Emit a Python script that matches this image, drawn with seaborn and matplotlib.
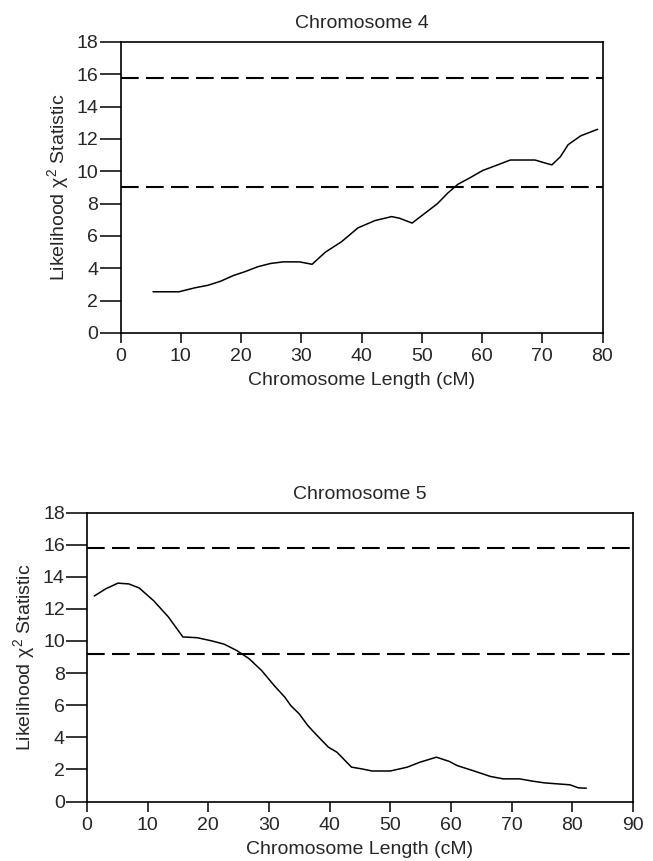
import matplotlib
matplotlib.use("Agg")
import matplotlib.pyplot as plt
import seaborn as sns
import pandas as pd

# Chromosome 4 likelihood profile
chr4_pos = [5.4, 9.7, 12.4, 14.5, 16.6, 18.7, 20.7, 22.8, 24.9, 27.0, 29.7, 31.8,
            34.0, 36.7, 39.4, 42.2, 45.0, 46.3, 48.4, 50.5, 52.6, 54.3, 56.0, 58.0,
            60.1, 62.6, 64.7, 68.8, 70.6, 71.6, 73.0, 74.3, 76.4, 77.8, 79.2]
chr4_lr = [2.55, 2.55, 2.8, 2.95, 3.2, 3.55, 3.8, 4.1, 4.3, 4.4, 4.4, 4.25,
           5.0, 5.65, 6.5, 6.95, 7.2, 7.1, 6.8, 7.4, 8.0, 8.65, 9.2, 9.6,
           10.05, 10.4, 10.7, 10.7, 10.5, 10.4, 10.9, 11.65, 12.2, 12.4, 12.6]
chr4_thresholds = [15.8, 9.05]

# Chromosome 5 likelihood profile
chr5_pos = [1.2, 3.1, 5.1, 6.9, 8.6, 11.0, 13.4, 15.8, 18.2, 20.6, 22.6, 24.7,
            26.7, 28.8, 30.9, 32.6, 33.6, 35.0, 36.4, 37.7, 39.8, 41.2, 43.6, 45.3,
            47.0, 50.0, 52.8, 54.9, 57.6, 59.7, 61.0, 63.8, 66.5, 68.6, 71.3, 73.4,
            75.4, 77.5, 79.6, 81.0, 82.3]
chr5_lr = [12.8, 13.25, 13.6, 13.55, 13.3, 12.5, 11.5, 10.25, 10.2, 10.0, 9.8, 9.4,
           8.9, 8.15, 7.2, 6.5, 5.97, 5.45, 4.73, 4.2, 3.38, 3.07, 2.14, 2.03,
           1.9, 1.9, 2.14, 2.45, 2.76, 2.5, 2.24, 1.9, 1.56, 1.41, 1.41, 1.27,
           1.16, 1.1, 1.04, 0.85, 0.83]
chr5_thresholds = [15.8, 9.2]

y_ticks = [0, 2, 4, 6, 8, 10, 12, 14, 16, 18]

sns.set_style("ticks")
plt.rcParams['font.family'] = ['Liberation Sans', 'DejaVu Sans']
plt.rcParams['mathtext.fontset'] = 'custom'
plt.rcParams['mathtext.rm'] = 'Liberation Sans'
plt.rcParams['mathtext.it'] = 'Liberation Sans'

fig = plt.figure(figsize=(6.53, 8.61), dpi=100)
ax1 = fig.add_axes([120.5 / 653, 1 - 333 / 861, 482 / 653, 291 / 861])
ax2 = fig.add_axes([87 / 653, 1 - 801.5 / 861, 546 / 653, 289 / 861])

panels = [
    (ax1, "Chromosome 4", chr4_pos, chr4_lr, chr4_thresholds, 80),
    (ax2, "Chromosome 5", chr5_pos, chr5_lr, chr5_thresholds, 90),
]

for ax, title, pos, lr, thr, xmax in panels:
    df = pd.DataFrame({"pos": pos, "lr": lr})
    sns.lineplot(data=df, x="pos", y="lr", ax=ax, color="black", linewidth=1.1)
    for t in thr:
        ax.axhline(t, color="black", linestyle=(0, (8.5, 3.5)), linewidth=1.5)
    ax.set_xlim(0, xmax)
    ax.set_ylim(0, 18)
    ax.set_yticks(y_ticks)
    ax.set_xticks(list(range(0, xmax + 1, 10)))
    ax.set_title(title, fontsize=14, pad=10)
    ax.set_xlabel("Chromosome Length (cM)", fontsize=14, labelpad=5)
    ax.set_ylabel(r"Likelihood $\chi^2$ Statistic", fontsize=14, labelpad=4)
    ax.tick_params(axis="y", direction="out", length=15, width=1.1, labelsize=14,
                   color="black", pad=1)
    ax.tick_params(axis="x", direction="out", length=7, width=1.1, labelsize=14,
                   color="black", pad=4)
    for s in ax.spines.values():
        s.set_visible(True)
        s.set_color("black")
        s.set_linewidth(1.2)

fig.savefig("out.png", dpi=100, facecolor="white")
